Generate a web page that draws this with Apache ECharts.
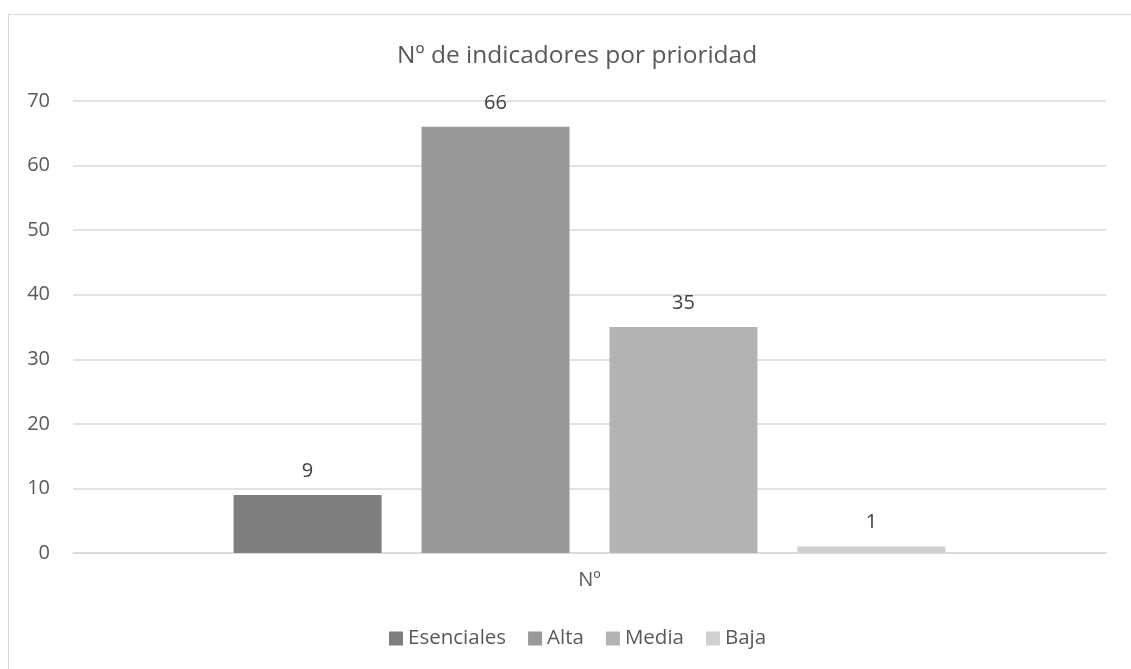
<!DOCTYPE html>
<html><head><meta charset="utf-8">
<script src="https://cdn.jsdelivr.net/npm/echarts@6/dist/echarts.min.js"></script>
<style>
html,body{margin:0;padding:0;background:#fff;overflow:hidden;}
#frame{position:absolute;left:8px;top:14px;width:1140px;height:680px;border:1.5px solid #d9d9d9;box-sizing:border-box;}
#c{position:absolute;left:0;top:0;width:1131px;height:669px;}
</style></head>
<body>
<div id="frame"></div>
<div id="c"></div>
<script>
const title = 'Nº de indicadores por prioridad';
const categories = ['Nº'];
const seriesNames = ['Esenciales', 'Alta', 'Media', 'Baja'];
const seriesValues = [9, 66, 35, 1];
const seriesColors = ['#7f7f7f', '#999999', '#b3b3b3', '#d0d0d0'];
const yMin = 0, yMax = 70, yStep = 10;

const font = '"Open Sans", "Noto Sans", sans-serif';
const chart = echarts.init(document.getElementById('c'), null, {renderer: 'canvas'});
chart.setOption({
  animation: false,
  backgroundColor: 'transparent',
  textStyle: {fontFamily: font},
  title: {text: title, left: 397, top: 44, padding: 0,
    textStyle: {fontFamily: font, fontSize: 24.5, fontWeight: 'normal', color: '#595959'}},
  legend: {data: seriesNames, bottom: 20, left: 389, padding: 0, itemWidth: 14, itemHeight: 14, itemGap: 22,
    icon: 'rect', textStyle: {fontFamily: font, fontSize: 20.5, color: '#595959'}},
  grid: {left: 73, right: 25, top: 101, bottom: 116, containLabel: false},
  xAxis: {type: 'category', data: categories,
    axisLine: {lineStyle: {color: '#d9d9d9', width: 1.5}}, axisTick: {show: false},
    axisLabel: {fontFamily: font, fontSize: 20, color: '#595959', margin: 17}},
  yAxis: {type: 'value', min: yMin, max: yMax, interval: yStep,
    axisLine: {show: false}, axisTick: {show: false},
    splitLine: {lineStyle: {color: '#d9d9d9', width: 1.5}},
    axisLabel: {fontFamily: font, fontSize: 20, color: '#595959', margin: 23}},
  series: seriesNames.map((n, i) => ({
    name: n, type: 'bar', data: [seriesValues[i]], barWidth: 148, barGap: '27%',
    itemStyle: {color: seriesColors[i]},
    label: {show: true, position: 'top', distance: 14, fontFamily: font, fontSize: 20, color: '#404040'}
  }))
});
</script>
</body></html>
